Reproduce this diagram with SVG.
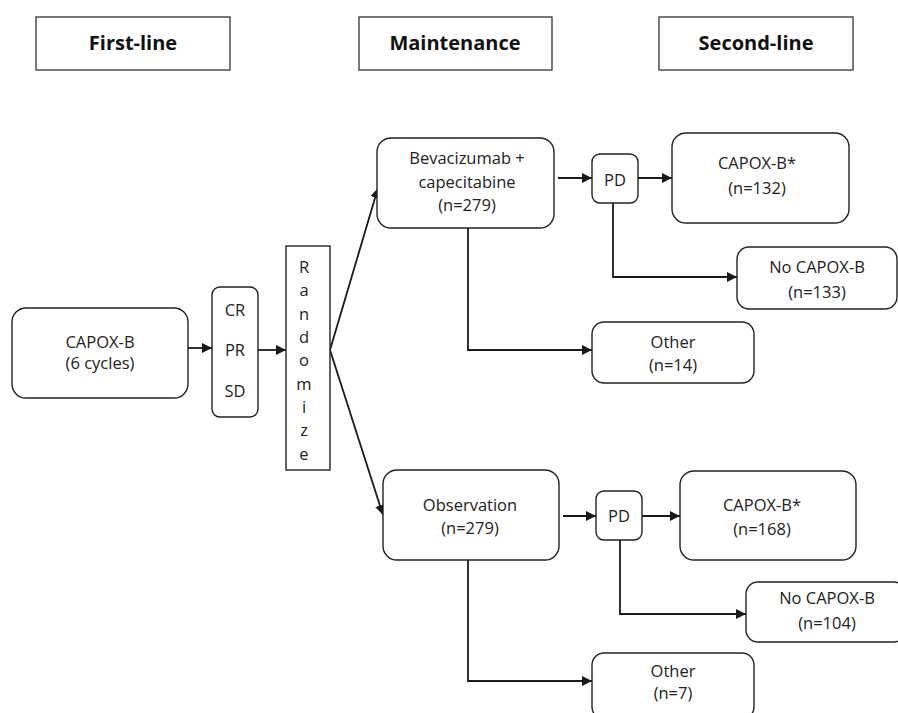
<svg xmlns="http://www.w3.org/2000/svg" width="898" height="713" viewBox="0 0 898 713">
<defs>
<marker id="arr" viewBox="0 0 10 10" refX="10" refY="5" markerWidth="10" markerHeight="10" markerUnits="userSpaceOnUse" orient="auto">
<path d="M0,0 L10,5 L0,10 z" fill="#1a1a1a"/>
</marker>
<style>
.hdr{fill:#fff;stroke:#333;stroke-width:1.3}
.box{fill:#fff;stroke:#222;stroke-width:1.4}
.t{font-family:"Open Sans","Noto Sans",sans-serif;font-size:16.5px;fill:#222;text-anchor:middle}
.h{font-family:"Open Sans","Noto Sans",sans-serif;font-size:20px;font-weight:bold;fill:#111;text-anchor:middle}
.c{fill:none;stroke:#1a1a1a;stroke-width:1.8}
</style>
</defs>
<rect width="898" height="713" fill="#fff"/>
<g id="hdr-first"><rect class="hdr" x="36" y="17" width="194" height="53"/><text class="h" x="133" y="50">First-line</text></g>
<g id="hdr-maint"><rect class="hdr" x="359" y="17" width="193" height="53"/><text class="h" x="455" y="50">Maintenance</text></g>
<g id="hdr-second"><rect class="hdr" x="659" y="17" width="194" height="53"/><text class="h" x="756" y="50">Second-line</text></g>

<g id="connectors">
<line class="c" x1="188" y1="348" x2="212" y2="348" marker-end="url(#arr)"/>
<line class="c" x1="258" y1="350" x2="286" y2="350" marker-end="url(#arr)"/>
<line class="c" x1="330" y1="350" x2="378" y2="188" marker-end="url(#arr)"/>
<line class="c" x1="330" y1="350" x2="383" y2="515" marker-end="url(#arr)"/>
<line class="c" x1="558" y1="178" x2="592" y2="178" marker-end="url(#arr)"/>
<line class="c" x1="638" y1="178" x2="672" y2="178" marker-end="url(#arr)"/>
<polyline class="c" points="613,203 613,277 737,277" marker-end="url(#arr)"/>
<polyline class="c" points="468,228 468,350 592,350" marker-end="url(#arr)"/>
<line class="c" x1="563" y1="516" x2="596" y2="516" marker-end="url(#arr)"/>
<line class="c" x1="642" y1="516" x2="680" y2="516" marker-end="url(#arr)"/>
<polyline class="c" points="620,540 620,614 746,614" marker-end="url(#arr)"/>
<polyline class="c" points="468,560 468,681 592,681" marker-end="url(#arr)"/>
</g>

<g id="capox"><rect class="box" x="12" y="308" width="176" height="90" rx="14"/><text class="t" x="100" y="348">CAPOX-B</text><text class="t" x="100" y="369">(6 cycles)</text></g>
<g id="response"><rect class="box" x="212" y="287" width="46" height="130" rx="8"/><text class="t" x="235" y="316">CR</text><text class="t" x="235" y="356">PR</text><text class="t" x="235" y="397">SD</text></g>
<g id="randomize"><rect class="box" x="286" y="246" width="44" height="224" fill="#fff"/>
<text class="t" x="304" y="273">R</text><text class="t" x="304" y="296">a</text><text class="t" x="304" y="320">n</text><text class="t" x="304" y="343">d</text><text class="t" x="304" y="366">o</text><text class="t" x="304" y="390">m</text><text class="t" x="304" y="413">i</text><text class="t" x="304" y="436">z</text><text class="t" x="304" y="460">e</text></g>
<g id="bev"><rect class="box" x="377" y="138" width="177" height="90" rx="14"/><text class="t" x="467" y="164">Bevacizumab +</text><text class="t" x="467" y="188">capecitabine</text><text class="t" x="467" y="211">(n=279)</text></g>
<g id="pd1"><rect class="box" x="592" y="154" width="46" height="49" rx="8"/><text class="t" x="615" y="186">PD</text></g>
<g id="capoxb1"><rect class="box" x="672" y="133" width="177" height="90" rx="14"/><text class="t" x="757" y="169">CAPOX-B*</text><text class="t" x="757" y="194">(n=132)</text></g>
<g id="nocapox1"><rect class="box" x="737" y="247" width="160" height="62" rx="12"/><text class="t" x="817" y="273">No CAPOX-B</text><text class="t" x="817" y="298">(n=133)</text></g>
<g id="other1"><rect class="box" x="592" y="322" width="162" height="61" rx="12"/><text class="t" x="673" y="348">Other</text><text class="t" x="673" y="371">(n=14)</text></g>
<g id="obs"><rect class="box" x="383" y="470" width="176" height="90" rx="14"/><text class="t" x="470" y="511">Observation</text><text class="t" x="470" y="534">(n=279)</text></g>
<g id="pd2"><rect class="box" x="596" y="491" width="46" height="49" rx="8"/><text class="t" x="619" y="522">PD</text></g>
<g id="capoxb2"><rect class="box" x="680" y="471" width="176" height="89" rx="14"/><text class="t" x="762" y="511">CAPOX-B*</text><text class="t" x="762" y="535">(n=168)</text></g>
<g id="nocapox2"><rect class="box" x="746" y="582" width="160" height="60" rx="12"/><text class="t" x="827" y="604">No CAPOX-B</text><text class="t" x="827" y="629">(n=104)</text></g>
<g id="other2"><rect class="box" x="592" y="653" width="162" height="66" rx="12"/><text class="t" x="673" y="677">Other</text><text class="t" x="673" y="699">(n=7)</text></g>
</svg>
